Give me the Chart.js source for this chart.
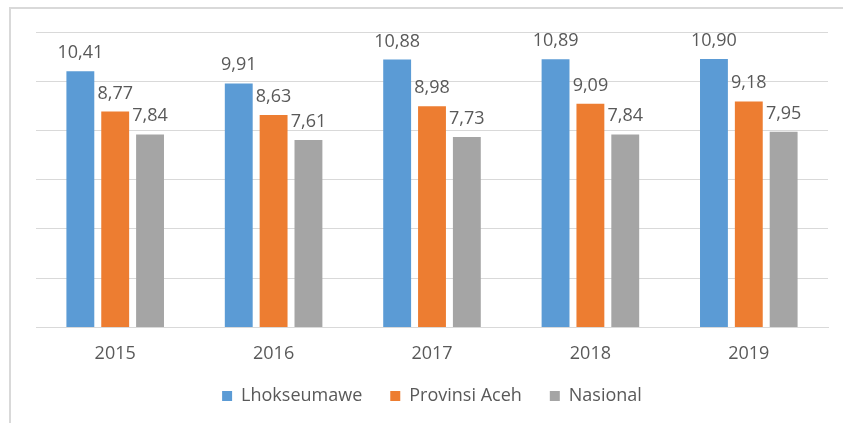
<!DOCTYPE html>
<html>
<head>
<meta charset="utf-8">
<script src="https://cdn.jsdelivr.net/npm/chart.js@4"></script>
<style>
  body { margin: 0; background: #fff; }
  .wrap { position: relative; width: 843px; height: 423px; }
  .frame {
    position: absolute; left: 9px; top: 7px; right: 0; bottom: 0;
    border-left: 2px solid #d9d9d9; border-top: 2px solid #d9d9d9;
  }
  canvas { position: absolute; left: 0; top: 0; }
</style>
</head>
<body>
<div class="wrap">
  <div class="frame"></div>
  <canvas id="chart" width="843" height="423"></canvas>
</div>
<script>
const fontFamily = "'Open Sans', sans-serif";
const textColor = '#595959';
const gridColor = '#d9d9d9';

const years = ['2015', '2016', '2017', '2018', '2019'];
const lhokseumawe = [10.41, 9.91, 10.88, 10.89, 10.90];
const provinsiAceh = [8.77, 8.63, 8.98, 9.09, 9.18];
const nasional = [7.84, 7.61, 7.73, 7.84, 7.95];

const colors = {
  lhok: '#5b9bd5',
  aceh: '#ed7d31',
  nas: '#a5a5a5',
};

// value labels above each bar, comma as decimal separator
const barLabels = {
  id: 'barLabels',
  afterDatasetsDraw(chart) {
    const ctx = chart.ctx;
    ctx.save();
    ctx.font = '18px ' + fontFamily;
    ctx.fillStyle = textColor;
    ctx.textAlign = 'center';
    ctx.textBaseline = 'alphabetic';
    chart.data.datasets.forEach((ds, i) => {
      chart.getDatasetMeta(i).data.forEach((bar, j) => {
        const txt = ds.data[j].toFixed(2).replace('.', ',');
        ctx.fillText(txt, bar.x, bar.y - 13);
      });
    });
    ctx.restore();
  },
};

function makeBar(label, data, color) {
  return {
    label,
    data,
    backgroundColor: color,
    borderWidth: 0,
    categoryPercentage: 0.66,
    barPercentage: 0.8,
  };
}

new Chart(document.getElementById('chart'), {
  type: 'bar',
  data: {
    labels: years,
    datasets: [
      makeBar('Lhokseumawe', lhokseumawe, colors.lhok),
      makeBar('Provinsi Aceh', provinsiAceh, colors.aceh),
      makeBar('Nasional', nasional, colors.nas),
    ],
  },
  options: {
    responsive: false,
    animation: false,
    layout: { padding: { left: 36, right: 15, top: 32, bottom: 8 } },
    plugins: {
      legend: {
        position: 'bottom',
        labels: {
          color: textColor,
          font: { family: fontFamily, size: 18 },
          boxWidth: 10,
          boxHeight: 10,
          padding: 28,
        },
      },
      tooltip: { enabled: false },
    },
    scales: {
      x: {
        grid: { display: false, drawTicks: false },
        border: { color: gridColor, width: 1 },
        ticks: {
          color: textColor,
          font: { family: fontFamily, size: 18 },
          padding: 16,
        },
        // pull the legend up closer to the year labels
        afterFit: scale => { scale.height -= 22; },
      },
      y: {
        min: 0,
        max: 12,
        ticks: { display: false, stepSize: 2 },
        grid: { color: gridColor, lineWidth: 1, drawTicks: false },
        border: { display: false },
      },
    },
  },
  plugins: [barLabels],
});
</script>
</body>
</html>
